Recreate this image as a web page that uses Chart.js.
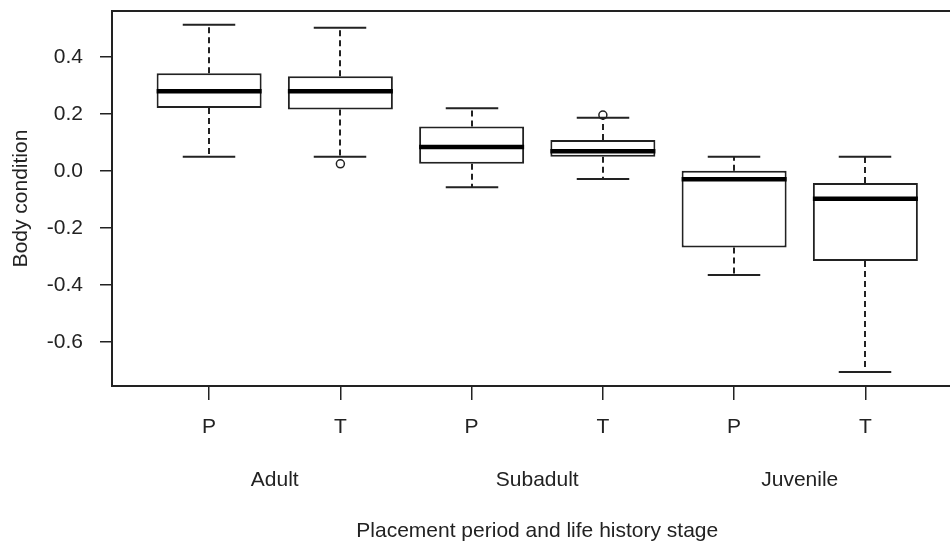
<!DOCTYPE html>
<html>
<head>
<meta charset="utf-8">
<script src="https://cdn.jsdelivr.net/npm/chart.js@4.4.1/dist/chart.umd.min.js"></script>
<style>
  html, body { margin: 0; padding: 0; background: #fff; overflow: hidden; }
  /* the source figure is cut off on the right, just past the last box */
  #wrap { width: 968px; height: 544px; position: relative; }
</style>
</head>
<body>
<div id="wrap"><canvas id="chart"></canvas></div>
<script>
// boxplot summary per group
var periods = ['P', 'T', 'P', 'T', 'P', 'T'];
var stages = ['Adult', 'Subadult', 'Juvenile'];
var whiskerHigh = [0.513, 0.502, 0.220, 0.187, 0.050, 0.050];
var upperQ = [0.343, 0.332, 0.156, 0.109, 0.001, -0.042];
var medians = [0.280, 0.280, 0.084, 0.069, -0.029, -0.097];
var lowerQ = [0.221, 0.216, 0.025, 0.050, -0.268, -0.316];
var whiskerLow = [0.050, 0.050, -0.057, -0.028, -0.365, -0.705];
var outlierGroup = [1, 3];
var outlierValue = [0.025, 0.196];
var yTicks = [-0.6, -0.4, -0.2, 0.0, 0.2, 0.4];

var INK = '#222';
var FONT = { family: '"Liberation Sans", Arial, sans-serif', size: 21 };

function noScalePadding(scale) {
    scale.paddingTop = 0;
    scale.paddingBottom = 0;
    scale.paddingLeft = 0;
    scale.paddingRight = 0;
}

var boxPlugin = {
    id: 'boxParts',
    beforeDatasetsDraw: function (chart) {
        var ctx = chart.ctx, y = chart.scales.y;
        var bars = chart.getDatasetMeta(0).data;
        ctx.save();
        ctx.strokeStyle = INK;
        ctx.lineWidth = 2;
        bars.forEach(function (bar, i) {
            var cx = Math.round(bar.x);
            var hw = bar.width / 4;
            var yHi = y.getPixelForValue(whiskerHigh[i]);
            var yLo = y.getPixelForValue(whiskerLow[i]);
            ctx.setLineDash([6, 4]);
            ctx.beginPath();
            ctx.moveTo(cx, y.getPixelForValue(upperQ[i]));
            ctx.lineTo(cx, yHi);
            ctx.moveTo(cx, y.getPixelForValue(lowerQ[i]));
            ctx.lineTo(cx, yLo);
            ctx.stroke();
            ctx.setLineDash([]);
            ctx.beginPath();
            ctx.moveTo(cx - hw, yHi);
            ctx.lineTo(cx + hw, yHi);
            ctx.moveTo(cx - hw, yLo);
            ctx.lineTo(cx + hw, yLo);
            ctx.stroke();
        });
        ctx.restore();
    },
    afterDatasetsDraw: function (chart) {
        var ctx = chart.ctx, y = chart.scales.y;
        var bars = chart.getDatasetMeta(0).data;
        ctx.save();
        ctx.strokeStyle = '#000';
        ctx.lineWidth = 4.5;
        bars.forEach(function (bar, i) {
            var ym = y.getPixelForValue(medians[i]);
            ctx.beginPath();
            ctx.moveTo(bar.x - bar.width / 2, ym);
            ctx.lineTo(bar.x + bar.width / 2, ym);
            ctx.stroke();
        });
        ctx.restore();
    },
    afterDraw: function (chart) {
        var ctx = chart.ctx, area = chart.chartArea, x = chart.scales.x;
        ctx.save();
        // top and right edges of the plot frame
        ctx.strokeStyle = INK;
        ctx.lineWidth = 2;
        ctx.beginPath();
        ctx.moveTo(area.left, area.top);
        ctx.lineTo(area.right, area.top);
        ctx.lineTo(area.right, area.bottom);
        ctx.stroke();
        // life history stage under each pair of boxes
        ctx.fillStyle = INK;
        ctx.font = FONT.size + 'px ' + FONT.family;
        ctx.textAlign = 'center';
        ctx.textBaseline = 'middle';
        stages.forEach(function (s, k) {
            var px = (x.getPixelForValue(2 * k) + x.getPixelForValue(2 * k + 1)) / 2;
            ctx.fillText(s, px, area.bottom + 94);
        });
        ctx.restore();
    }
};

new Chart(document.getElementById('chart'), {
    type: 'bar',
    data: {
        datasets: [{
            label: 'box',
            data: periods.map(function (p, i) { return { x: i, y: [lowerQ[i], upperQ[i]] }; }),
            backgroundColor: '#fff',
            borderColor: INK,
            borderWidth: 2,
            borderSkipped: false,
            barPercentage: 0.8,
            categoryPercentage: 1.0
        }, {
            type: 'line',
            label: 'outliers',
            data: outlierGroup.map(function (g, i) { return { x: g, y: outlierValue[i] }; }),
            showLine: false,
            pointRadius: 4,
            pointBorderWidth: 1.5,
            pointBorderColor: INK,
            pointBackgroundColor: 'rgba(0,0,0,0)'
        }]
    },
    options: {
        responsive: true,
        maintainAspectRatio: false,
        animation: false,
        events: [],
        layout: { padding: { top: 11, left: 0, right: 0, bottom: 0 } },
        plugins: { legend: { display: false }, tooltip: { enabled: false } },
        scales: {
            x: {
                type: 'linear',
                min: -0.74,
                max: 5.74,
                offset: false,
                grid: { drawOnChartArea: false, offset: false, tickLength: 14, color: INK, lineWidth: 1.5 },
                border: { display: true, color: INK, width: 2 },
                afterBuildTicks: function (scale) {
                    scale.ticks = periods.map(function (p, i) { return { value: i }; });
                },
                afterFit: function (scale) { scale.height = 158; noScalePadding(scale); },
                ticks: {
                    autoSkip: false,
                    maxRotation: 0,
                    padding: 15,
                    color: INK,
                    font: FONT,
                    callback: function (v, i) { return periods[i]; }
                },
                title: {
                    display: true,
                    text: 'Placement period and life history stage',
                    color: INK,
                    font: FONT,
                    padding: { top: 0, bottom: 0 }
                }
            },
            y: {
                min: -0.754,
                max: 0.561,
                grid: { drawOnChartArea: false, tickLength: 12, color: INK, lineWidth: 1.5 },
                border: { display: true, color: INK, width: 2 },
                afterBuildTicks: function (scale) {
                    scale.ticks = yTicks.map(function (v) { return { value: v }; });
                },
                afterFit: function (scale) { scale.width = 112; noScalePadding(scale); },
                ticks: {
                    padding: 17,
                    color: INK,
                    font: FONT,
                    callback: function (v) { return v.toFixed(1); }
                },
                title: {
                    display: true,
                    text: 'Body condition',
                    color: INK,
                    font: FONT,
                    padding: { top: 9, bottom: 0 }
                }
            }
        }
    },
    plugins: [boxPlugin]
});
</script>
</body>
</html>
